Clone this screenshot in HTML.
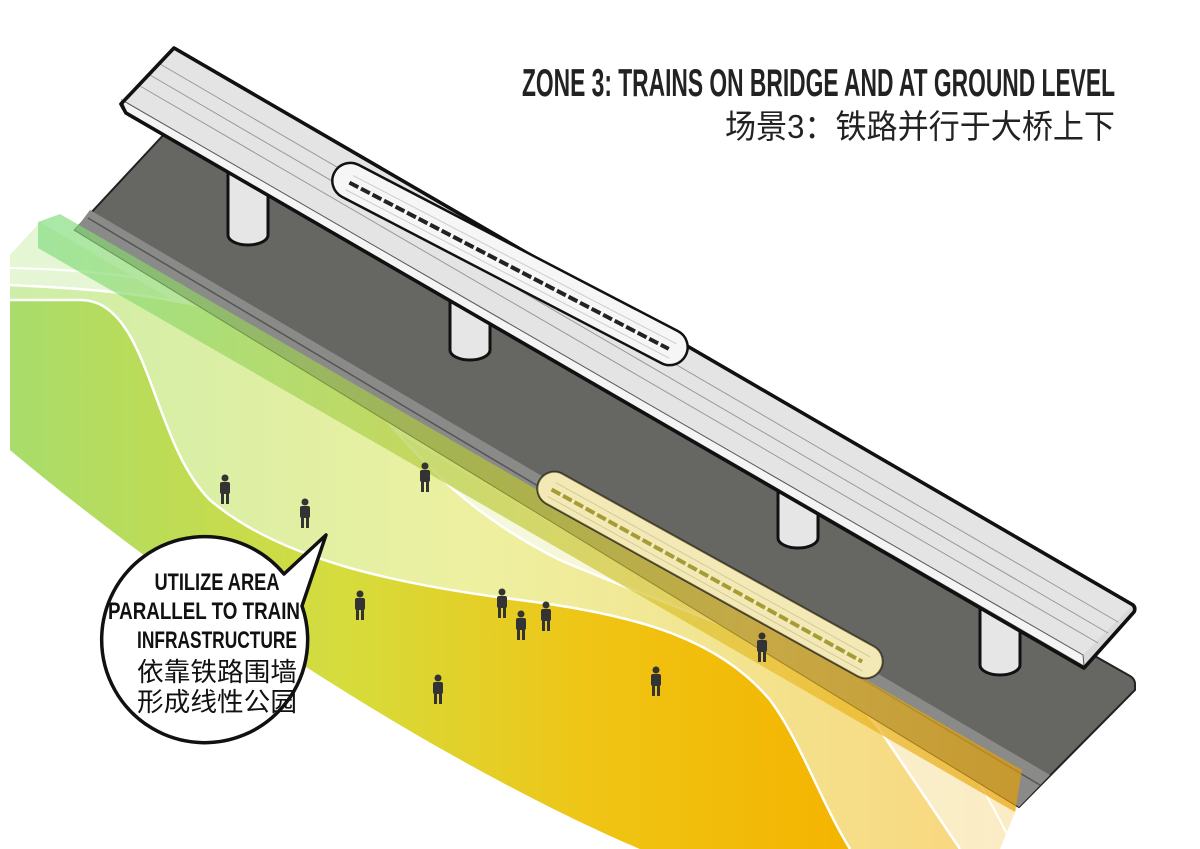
<!DOCTYPE html>
<html><head><meta charset="utf-8"><style>
html,body{margin:0;padding:0;background:#fff;}
svg{display:block;}
</style></head><body>
<svg width="1200" height="849" viewBox="0 0 1200 849" xmlns="http://www.w3.org/2000/svg">
<defs>
<linearGradient id="sat" x1="0" y1="0" x2="1" y2="0" gradientUnits="objectBoundingBox">
<stop offset="0" stop-color="#a8dc6c"/><stop offset="0.4" stop-color="#d6dc3c"/><stop offset="0.7" stop-color="#f0c414"/><stop offset="1" stop-color="#f4b400"/>
</linearGradient>
<linearGradient id="med" x1="0" y1="0" x2="1" y2="0">
<stop offset="0" stop-color="#cdeea8"/><stop offset="0.5" stop-color="#eef0a0"/><stop offset="1" stop-color="#f8d880"/>
</linearGradient>
<linearGradient id="pale" x1="0" y1="0" x2="1" y2="0">
<stop offset="0" stop-color="#e4f6d4"/><stop offset="0.5" stop-color="#f6f8dc"/><stop offset="1" stop-color="#fbecc4"/>
</linearGradient>
<linearGradient id="strip" x1="0" y1="0" x2="1" y2="0">
<stop offset="0" stop-color="#7cdc7c"/><stop offset="0.45" stop-color="#b8c830"/><stop offset="0.75" stop-color="#e8b820"/><stop offset="1" stop-color="#e8a000"/>
</linearGradient>
</defs>

<!-- landscape -->
<path d="M10,255 L40,222 L1020,800 L1000,849 L640,849 C500,790 250,650 10,450 Z" fill="url(#pale)"/>
<path d="M10,285 C120,290 260,300 340,370 C400,430 440,500 560,560 C700,620 820,650 880,730 L960,849 L640,849 C500,790 250,650 10,450 Z" fill="url(#med)"/>
<path d="M10,285 C120,290 260,300 340,370 C400,430 440,500 560,560 C700,620 820,650 880,730 L960,849" fill="none" stroke="#fff" stroke-width="2.5"/>
<path d="M10,300 L80,300 C150,300 150,440 210,500 C280,560 400,585 520,600 C640,615 720,640 770,700 C800,740 820,800 850,849 L640,849 C500,790 250,650 10,450 Z" fill="url(#sat)"/>
<path d="M10,300 L80,300 C150,300 150,440 210,500 C280,560 400,585 520,600 C640,615 720,640 770,700 C800,740 820,800 850,849" fill="none" stroke="#fff" stroke-width="2.5"/>
<path d="M10,268 C150,270 300,300 420,380 C500,440 600,520 760,580 C880,630 950,720 1010,840" fill="none" stroke="#fff" stroke-width="2"/>

<!-- ground slab -->
<path d="M168,130 L1130,676 Q1135,679 1135,684 L1135,690 L1019,807 L75,230 Z" fill="#666663" stroke="#222" stroke-width="2"/>
<path d="M75,230 L90,210 L1050,775 L1019,807 Z" fill="#8a8a88"/>
<path d="M88,218 L1040,785" stroke="#555" stroke-width="1.5"/>
<path d="M38,222 L60,214 L1022,770 L1015,812 L38,248 Z" fill="url(#strip)" opacity="0.65"/>

<!-- columns -->
<g fill="#e6e6e6" stroke="#111" stroke-width="3">
<path d="M228,150 L228,235 A20,10 0 0 0 268,235 L268,150"/>
<path d="M450,270 L450,350 A20,10 0 0 0 490,350 L490,270"/>
<path d="M778,460 L778,538 A20,10 0 0 0 818,538 L818,460"/>
<path d="M980,580 L980,665 A20,10 0 0 0 1020,665 L1020,580"/>
</g>

<!-- deck -->
<path d="M174,48 L1133,605 Q1136,608 1134,612 L1084,668 L126,113 L121,104 Z" fill="#d9d9d9" stroke="#111" stroke-width="3.5" stroke-linejoin="round"/>
<path d="M174,48 L1133,605 L1083,655 L122,100 Z" fill="#e4e4e4"/>
<path d="M122,100 L1083,655 L1084,666 L126,112 Z" fill="#f4f4f4" stroke="#555" stroke-width="1"/>
<g stroke="#999" stroke-width="1" fill="none">
<path d="M160,64 L1118,622"/><path d="M150,75 L1108,633"/><path d="M140,86 L1098,643"/>
</g>
<path d="M174,48 L1133,605 Q1136,608 1134,612 L1084,668 L126,113 L121,104 Z" fill="none" stroke="#111" stroke-width="3.5" stroke-linejoin="round"/>

<!-- bridge train -->
<g transform="rotate(27.5 510 264)">
<rect x="312" y="246" width="396" height="36" rx="18" fill="#f6f6f6" stroke="#111" stroke-width="2.5"/>
<g stroke="#ccc" stroke-width="1">
<line x1="330" y1="258" x2="695" y2="258"/><line x1="330" y1="274" x2="695" y2="274"/>
</g>
<line x1="330" y1="266" x2="690" y2="266" stroke="#222" stroke-width="4" stroke-dasharray="10,3"/>
</g>

<!-- ground train -->
<g transform="rotate(29 710 575)">
<rect x="515" y="558" width="390" height="34" rx="17" fill="#f8f8f8" stroke="#333" stroke-width="2"/>
<g stroke="#ccc" stroke-width="1">
<line x1="530" y1="569" x2="890" y2="569"/><line x1="530" y1="585" x2="890" y2="585"/>
</g>
<line x1="530" y1="577" x2="885" y2="577" stroke="#8a8a40" stroke-width="4" stroke-dasharray="10,3"/>
<rect x="515" y="558" width="390" height="34" rx="17" fill="#e8c820" opacity="0.3"/>
</g>

<!-- people -->
<g fill="#333">
<g transform="translate(225,490)"><circle cx="0" cy="-12" r="3.5"/><rect x="-5" y="-8" width="10" height="12" rx="2"/><rect x="-4" y="3" width="3" height="11"/><rect x="1" y="3" width="3" height="11"/></g>
<g transform="translate(305,514)"><circle cx="0" cy="-12" r="3.5"/><rect x="-5" y="-8" width="10" height="12" rx="2"/><rect x="-4" y="3" width="3" height="11"/><rect x="1" y="3" width="3" height="11"/></g>
<g transform="translate(425,478)"><circle cx="0" cy="-12" r="3.5"/><rect x="-5" y="-8" width="10" height="12" rx="2"/><rect x="-4" y="3" width="3" height="11"/><rect x="1" y="3" width="3" height="11"/></g>
<g transform="translate(360,606)"><circle cx="0" cy="-12" r="3.5"/><rect x="-5" y="-8" width="10" height="12" rx="2"/><rect x="-4" y="3" width="3" height="11"/><rect x="1" y="3" width="3" height="11"/></g>
<g transform="translate(502,604)"><circle cx="0" cy="-12" r="3.5"/><rect x="-5" y="-8" width="10" height="12" rx="2"/><rect x="-4" y="3" width="3" height="11"/><rect x="1" y="3" width="3" height="11"/></g>
<g transform="translate(521,626)"><circle cx="0" cy="-12" r="3.5"/><rect x="-5" y="-8" width="10" height="12" rx="2"/><rect x="-4" y="3" width="3" height="11"/><rect x="1" y="3" width="3" height="11"/></g>
<g transform="translate(546,617)"><circle cx="0" cy="-12" r="3.5"/><rect x="-5" y="-8" width="10" height="12" rx="2"/><rect x="-4" y="3" width="3" height="11"/><rect x="1" y="3" width="3" height="11"/></g>
<g transform="translate(438,690)"><circle cx="0" cy="-12" r="3.5"/><rect x="-5" y="-8" width="10" height="12" rx="2"/><rect x="-4" y="3" width="3" height="11"/><rect x="1" y="3" width="3" height="11"/></g>
<g transform="translate(656,682)"><circle cx="0" cy="-12" r="3.5"/><rect x="-5" y="-8" width="10" height="12" rx="2"/><rect x="-4" y="3" width="3" height="11"/><rect x="1" y="3" width="3" height="11"/></g>
<g transform="translate(762,648)"><circle cx="0" cy="-12" r="3.5"/><rect x="-5" y="-8" width="10" height="12" rx="2"/><rect x="-4" y="3" width="3" height="11"/><rect x="1" y="3" width="3" height="11"/></g>
</g>

<!-- speech bubble -->
<path d="M284,574 L326,535 L302,606 A103,103 0 1 1 284,574 Z" fill="#fff" stroke="#111" stroke-width="3.5" stroke-linejoin="round"/>
<g font-family="Liberation Sans, sans-serif" font-weight="bold" fill="#111" text-anchor="middle" font-size="24">
<text x="217" y="590" textLength="125" lengthAdjust="spacingAndGlyphs">UTILIZE AREA</text>
<text x="204" y="619" textLength="192" lengthAdjust="spacingAndGlyphs">PARALLEL TO TRAIN</text>
<text x="217" y="648" textLength="160" lengthAdjust="spacingAndGlyphs">INFRASTRUCTURE</text>
</g>
<g font-family="Liberation Sans, 'Noto Sans CJK SC', sans-serif" fill="#111" text-anchor="middle" font-size="26">
<text x="217" y="681" textLength="160" lengthAdjust="spacingAndGlyphs">依靠铁路围墙</text>
<text x="217" y="711" textLength="160" lengthAdjust="spacingAndGlyphs">形成线性公园</text>
</g>

<!-- title -->
<text x="1115" y="96" text-anchor="end" font-family="Liberation Sans, sans-serif" font-weight="bold" font-size="39" fill="#222" textLength="593" lengthAdjust="spacingAndGlyphs">ZONE 3: TRAINS ON BRIDGE AND AT GROUND LEVEL</text>
<text x="1115" y="138" text-anchor="end" font-family="Liberation Sans, 'Noto Sans CJK SC', sans-serif" font-size="33" fill="#222" textLength="390" lengthAdjust="spacingAndGlyphs">场景3：铁路并行于大桥上下</text>
</svg>
</body></html>
